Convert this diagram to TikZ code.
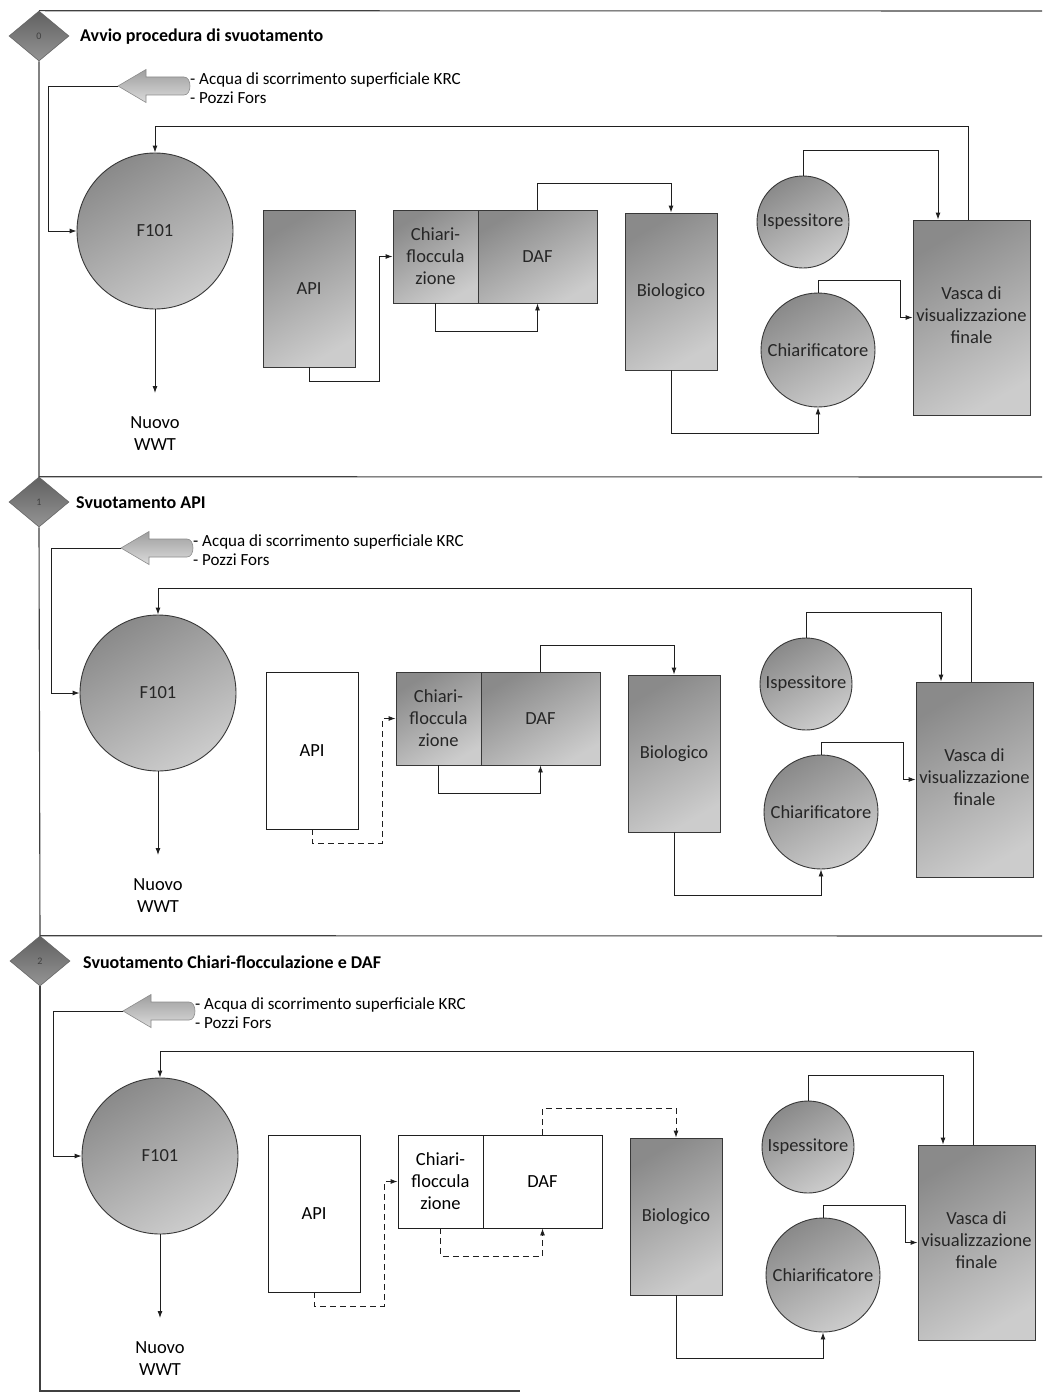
\documentclass[tikz,border=0pt]{standalone}
\usepackage{fontspec}
\setmainfont{Carlito}
\usetikzlibrary{arrows.meta,shapes.geometric}
\tikzset{
  frame/.style={draw=black!75, line width=1.1pt},
  conn/.style={draw=black!88, line width=0.9pt, -{Latex[length=7pt,width=5pt]}},
  connd/.style={conn, dash pattern=on 6pt off 4pt},
  tank/.style={draw=black!78, line width=0.9pt, top color=black!46, bottom color=black!20, shading angle=30,
    text=black!85, font=\fontsize{18.5}{22}\selectfont, align=center, inner sep=0pt},
  boxw/.style={draw=black!88, line width=0.9pt, fill=white, text=black,
    font=\fontsize{18.5}{22}\selectfont, align=center, inner sep=0pt},
  blockarrow/.style={draw=black!45, line width=0.6pt, top color=black!38, bottom color=black!14},
  lbl/.style={font=\fontsize{17}{18.5}\selectfont, align=left, inner sep=0pt, anchor=west},
  outtxt/.style={font=\fontsize{18.5}{22}\selectfont, align=center, inner sep=0pt, anchor=north},
  ttl/.style={font=\bfseries\fontsize{18}{21}\selectfont, inner sep=0pt, anchor=west},
  dia/.style={diamond, draw=black!60, line width=0.6pt, top color=black!62, bottom color=black!42,
    minimum width=60pt, minimum height=50pt, inner sep=0pt, font=\fontsize{10}{11}\selectfont, text=black!75}
}
% #1 dx, #2 dy, #3 id, #4 API style, #5 API connector, #6 Chiari/DAF style, #7 Chiari/DAF connectors
\newcommand\procpanel[7]{%
\begin{scope}[shift={(#1,#2)}, name prefix=p#3-]
  \path[blockarrow] (118,86) -- (146,69.5) -- (146,77) -- (184,77)
     .. controls (192,77) and (192,95) .. (184,95) -- (146,95) -- (146,102.5) -- cycle;
  \coordinate (tip) at (118,86);
  \node[lbl] (src) at (190,88) {- Acqua di scorrimento superficiale KRC\\- Pozzi Fors};
  \node[tank, circle, minimum size=156pt] (f101) at (155,231) {F101};
  \coordinate (out) at (155,393);
  \node[outtxt] (wwt) at (155,416) {Nuovo\\WWT};
  \node[#4, minimum width=92pt, minimum height=157pt] (api) at (309,288.5) {API};
  \node[#6, minimum width=85pt, minimum height=93pt] (chf) at (435.5,256.5) {Chiari-\\floccula\\zione};
  \node[#6, minimum width=119pt, minimum height=93pt] (daf) at (537.5,256.5) {DAF};
  \node[tank, minimum width=92pt, minimum height=157pt] (bio) at (671,291.5) {Biologico};
  \node[tank, circle, minimum size=92pt] (isp) at (803,222) {Ispessitore};
  \node[tank, circle, minimum size=114pt] (chl) at (818,350) {Chiarificatore};
  \node[tank, minimum width=117pt, minimum height=195pt] (vas) at (971.5,317.5)
    {\raisebox{5pt}{\begin{tabular}{@{}c@{}}Vasca di\\visualizzazione\\finale\end{tabular}}};
  \coordinate (vIn) at (938,150);
  \coordinate (rIn) at (968,126);
  \draw[conn] (tip) -- (48,86) |- (f101.west);
  \draw[conn] (f101.south) -- (out);
  \draw[#5] (api.south) |- (379,381) -- (379,256.5) -- (chf.west);
  \draw[#7] (chf.south) |- (537.5,331) -- (daf.south);
  \draw[#7] (daf.north) |- (671,183) -- (bio.north);
  \draw[conn] (bio.south) |- (818,433) -- (chl.south);
  \draw[conn] (isp.north) |- (vIn) -- (vIn |- vas.north);
  \draw[conn] (chl.north) |- (900,280) |- (vas.west);
  \draw[conn] (rIn |- vas.north) -- (rIn) -| (f101.north);
\end{scope}}

\begin{document}
\begin{tikzpicture}[x=1pt,y=-1pt]
  \useasboundingbox (0,0) rectangle (1042,1394);
  \fill[white] (0,0) rectangle (1042,1394);
  % phase markers and frame
  \node[dia] (d0) at (39,36) {0};
  \node[dia] (d1) at (39,502) {1};
  \node[dia] (d2) at (40,961) {2};
  \draw[frame] (d0.north) -- (1042,11);
  \draw[frame] (d0.south) -- (d1.north) -- (1042,477);
  \draw[frame] (d1.south) -- (d2.north) -- (1042,936);
  \draw[frame] (d2.south) -- (40,1391) -- (520,1391);
  \node[ttl] (t0) at (80,37) {Avvio procedura di svuotamento};
  \node[ttl] (t1) at (76,503) {Svuotamento API};
  \node[ttl] (t2) at (83,962) {Svuotamento Chiari-flocculazione e DAF};
  % panels
  \procpanel{0}{0}{0}{tank}{conn}{tank}{conn}
  \procpanel{3}{462}{1}{boxw}{connd}{tank}{conn}
  \procpanel{5}{925}{2}{boxw}{connd}{boxw}{connd}
\end{tikzpicture}
\end{document}
